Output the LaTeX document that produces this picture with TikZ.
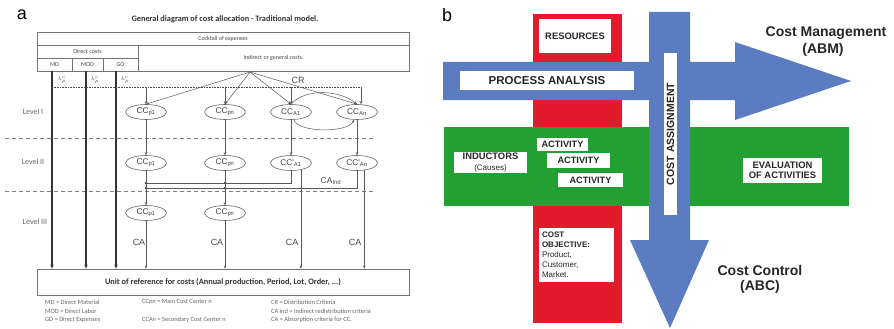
\documentclass[tikz,border=0pt]{standalone}
\usepackage{fontspec}
\setmainfont{Carlito}
\newfontfamily\arialfont{Liberation Sans}
\usetikzlibrary{shapes.geometric,arrows.meta}

\definecolor{redbar}{RGB}{226,26,44}
\definecolor{bluearr}{RGB}{92,124,194}
\definecolor{greenband}{RGB}{35,160,52}
\definecolor{inkgrey}{RGB}{70,70,70}

\tikzset{
  tabline/.style={draw=black!55, line width=0.8pt},
  cell/.style={font=\fontsize{6}{6.5}\selectfont, text=inkgrey, inner sep=0pt},
  lvl/.style={font=\fontsize{8}{8}\selectfont, text=black!60, inner sep=0pt},
  cc/.style={ellipse, draw=black!60, line width=0.6pt, minimum width=41pt,
    minimum height=15pt, inner sep=0pt, fill=white,
    font=\fontsize{8.3}{8.5}\selectfont\arialfont, text=black!75},
  conn/.style={draw=black!65, line width=0.5pt},
  arr/.style={conn, -{Stealth[length=3pt,width=2.6pt]}},
  thickarr/.style={draw=black!80, line width=1.2pt, -{Stealth[length=4pt,width=3.4pt]}},
  calbl/.style={font=\fontsize{9}{9}\selectfont\arialfont, text=black!70, inner sep=0pt},
  legend/.style={font=\fontsize{6.4}{6.5}\selectfont, text=black!60, anchor=west, inner sep=0pt},
  wbox/.style={fill=white, inner sep=0pt, font=\arialfont\bfseries, text=black!85, align=center},
  biglbl/.style={font=\fontsize{14}{15}\selectfont\arialfont\bfseries, text=black!85, inner sep=0pt},
  panel/.style={font=\fontsize{18}{18}\selectfont\arialfont, inner sep=0pt},
  jdot/.style={fill=black!75}
}

\begin{document}
\begin{tikzpicture}[x=1pt,y=-1pt]
\useasboundingbox (0,0) rectangle (894,329);
\fill[white] (0,0) rectangle (894,329);

% ---------------- panel a : traditional allocation ----------------
\node[panel] (tagA) at (22,15) {a};
\node[font=\fontsize{8.3}{9}\selectfont\bfseries, text=black!80, inner sep=0pt] (titleA) at (225,19)
  {General diagram of cost allocation - Traditional model.};

% header table
\draw[tabline] (37,32) rectangle (409,71);
\draw[tabline] (37,45) -- (409,45);
\draw[tabline] (138,45) -- (138,71);
\draw[tabline] (37,58) -- (138,58);
\draw[tabline] (72,58) -- (72,71);
\draw[tabline] (103,58) -- (103,71);
\node[cell] (cocktail) at (223,38.5) {Cocktail of expenses};
\node[cell] (direct) at (87.5,51.5) {Direct costs};
\node[cell] (md) at (54.5,64.5) {MD};
\node[cell] (mod) at (87.5,64.5) {MOD};
\node[cell] (go) at (120.5,64.5) {GO};
\node[cell] (indirect) at (273.5,58) {Indirect or general costs.};

% unit of reference
\node[draw=black!55, line width=0.8pt, minimum width=372pt, minimum height=26pt, inner sep=0pt,
  font=\fontsize{8.3}{9}\selectfont\bfseries, text=black!80] (unit) at (223,282)
  {Unit of reference for costs (Annual production, Period, Lot, Order, ...)};

% level separators and labels
\draw[dashed, draw=black!50, line width=0.7pt, dash pattern=on 4pt off 3pt] (5,138) -- (375,138);
\draw[dashed, draw=black!50, line width=0.7pt, dash pattern=on 4pt off 3pt] (5,191) -- (375,191);
\node[lvl] (lvI) at (33,112) {Level I};
\node[lvl] (lvII) at (33,162) {Level II};
\node[lvl] (lvIII) at (35,222) {Level III};

% cost centres
\node[cc] (p1a) at (146,112) {CC\textsubscript{p1}};
\node[cc] (pna) at (225,112) {CC\textsubscript{pn}};
\node[cc] (a1a) at (291,112) {CC\textsubscript{A1}};
\node[cc] (ana) at (357,112) {CC\textsubscript{An}};
\node[cc] (p1b) at (146,163) {CC\textsubscript{p1}};
\node[cc] (pnb) at (225,163) {CC\textsubscript{pn}};
\node[cc] (a1b) at (291,163) {CC'\textsubscript{A1}};
\node[cc] (anb) at (357,163) {CC'\textsubscript{An}};
\node[cc] (p1c) at (146,213) {CC\textsubscript{p1}};
\node[cc] (pnc) at (225,213) {CC\textsubscript{pn}};

% direct cost lines
\coordinate (mdtop) at (52,71);
\coordinate (modtop) at (86,71);
\coordinate (gotop) at (116,71);
\draw[thickarr] (mdtop) -- (mdtop |- unit.north);
\draw[thickarr] (modtop) -- (modtop |- unit.north);
\draw[thickarr] (gotop) -- (gotop |- unit.north);
\node[font=\fontsize{4.5}{4.5}\selectfont, text=black!70, inner sep=0pt] (kmd) at (62,80) {$k^{c}_{p}$};
\node[font=\fontsize{4.5}{4.5}\selectfont, text=black!70, inner sep=0pt] (kmod) at (95,80) {$k^{c}_{p}$};
\node[font=\fontsize{4.5}{4.5}\selectfont, text=black!70, inner sep=0pt] (kgo) at (125,80) {$k^{c}_{p}$};

% distribution criteria
\coordinate (crL) at (52,87);
\coordinate (crR) at ([xshift=4pt]ana.north |- crL);
\draw[densely dotted, draw=black!70, line width=0.6pt] (crL) -- (crR);
\draw[arr] (p1a.north |- crL) -- (p1a.north);
\draw[arr] (pna.north |- crL) -- (pna.north);
\draw[arr] (a1a.north |- crL) -- (a1a.north);
\draw[arr] (crR) -- ([xshift=4pt]ana.north);
\node[font=\fontsize{9}{9}\selectfont\arialfont, text=black!70, inner sep=0pt] (crlbl) at (298,80) {CR};

\coordinate (apex) at (250,72);
\draw[arr] (apex) -- (p1a.north);
\draw[arr] (apex) -- (pna.north);
\draw[arr] (apex) -- (a1a.north);
\draw[arr] (apex) -- (ana.north);
\draw[arr] (a1a.north) .. controls (305,88) and (340,90) .. (ana.north);
\draw[arr] (a1a.-70) .. controls (298,133) and (348,133) .. (ana.-110);

% level I to level II
\draw[arr] (p1a) -- (p1b);
\draw[arr] (pna) -- (pnb);
\draw[arr] (a1a) -- (a1b);
\draw[arr] (ana) -- (anb);

% indirect redistribution
\coordinate (indA) at (146,183);
\coordinate (indB) at (146,188);
\draw[conn] (a1b.south) |- (indA);
\draw[conn] (anb.south) |- (indB);
\fill[jdot] (indA) circle (1.3pt);
\fill[jdot] (indB) circle (1.3pt);
\fill[jdot] (pnb.south |- indA) circle (1.3pt);
\fill[jdot] (pnb.south |- indB) circle (1.3pt);
\node[font=\fontsize{8.5}{9}\selectfont\arialfont, text=black!70, inner sep=0pt] (caind) at (331,181)
  {CA\textsubscript{Ind}};

% level II to level III and to unit
\draw[arr] (p1b) -- (p1c);
\draw[arr] (pnb) -- (pnc);
\draw[arr] (p1c.south) -- (p1c.south |- unit.north);
\draw[arr] (pnc.south) -- (pnc.south |- unit.north);
\draw[arr] (a1b.-35) -- (a1b.-35 |- unit.north);
\draw[arr] (anb.-45) -- (anb.-45 |- unit.north);
\node[calbl] (ca1) at (139,242) {CA};
\node[calbl] (ca2) at (217,242) {CA};
\node[calbl] (ca3) at (292,242) {CA};
\node[calbl] (ca4) at (355,242) {CA};

% legend
\node[legend] (lg1) at (45,302) {MD = Direct Material};
\node[legend] (lg2) at (45,311) {MOD = Direct Labor};
\node[legend] (lg3) at (45,320) {GD = Direct Expenses};
\node[legend] (lg4) at (142,302) {CCpn = Main Cost Center n};
\node[legend] (lg5) at (142,320) {CCAn = Secondary Cost Center n};
\node[legend] (lg6) at (271,302) {CR = Distribution Criteria};
\node[legend] (lg7) at (271,311) {CA ind = Indirect redistribution criteria};
\node[legend] (lg8) at (271,320) {CA = Absorption criteria for CC.};

% ---------------- panel b : activity based model ----------------
\node[panel] (tagB) at (447,15) {b};

\fill[redbar] (533,14) rectangle (622,323);
\node[wbox, minimum width=72pt, minimum height=34pt, font=\fontsize{9.4}{10}\selectfont\arialfont\bfseries] (res) at (575,36) {RESOURCES};

\fill[bluearr] (443,62) -- (735,62) -- (735,42) -- (851,81) -- (735,120) -- (735,100) -- (443,100) -- cycle;
\node[wbox, minimum width=174pt, minimum height=19pt, font=\fontsize{11.5}{12}\selectfont\arialfont\bfseries] (proc) at (547,80.5) {PROCESS ANALYSIS};

\fill[greenband] (444,127) rectangle (849,206);

\fill[bluearr] (649,12) -- (690,12) -- (690,240) -- (709,240) -- (670,328) -- (630,240) -- (649,240) -- cycle;
\node[wbox, minimum width=162pt, minimum height=13pt, rotate=90, font=\fontsize{10.5}{11}\selectfont\arialfont\bfseries] (assign) at (670.5,134) {COST ASSIGNMENT};

\node[wbox, minimum width=73pt, minimum height=21pt] (induct) at (490.5,162.5)
  {{\fontsize{9.4}{9}\selectfont INDUCTORS}\\[-1.5pt]{\fontsize{8}{8}\selectfont\mdseries (Causes)}};
\node[wbox, minimum width=51pt, minimum height=13pt, font=\fontsize{9.2}{9}\selectfont\arialfont\bfseries] (act1) at (562.5,144.5) {ACTIVITY};
\node[wbox, minimum width=63pt, minimum height=15pt, font=\fontsize{9.2}{9}\selectfont\arialfont\bfseries] (act2) at (578.5,160.5) {ACTIVITY};
\node[wbox, minimum width=65pt, minimum height=14pt, font=\fontsize{9.2}{9}\selectfont\arialfont\bfseries] (act3) at (590.5,180) {ACTIVITY};
\node[wbox, minimum width=79pt, minimum height=25pt, font=\fontsize{9.4}{10}\selectfont\arialfont\bfseries] (eval) at (782.5,170.5) {EVALUATION\\OF ACTIVITIES};

\node[fill=white, minimum width=75pt, minimum height=54pt, text width=69pt, inner sep=3pt, align=left,
  font=\fontsize{8}{10}\selectfont\arialfont, text=black!85] (obj) at (576.5,255)
  {\textbf{COST}\\\textbf{OBJECTIVE:}\\Product,\\Customer,\\Market.};

\node[biglbl] (mgmt) at (826,33) {Cost Management};
\node[biglbl] (abm) at (823,50) {(ABM)};
\node[biglbl] (ctrl) at (760,270) {Cost Control};
\node[biglbl] (abc) at (760,287) {(ABC)};
\end{tikzpicture}
\end{document}
